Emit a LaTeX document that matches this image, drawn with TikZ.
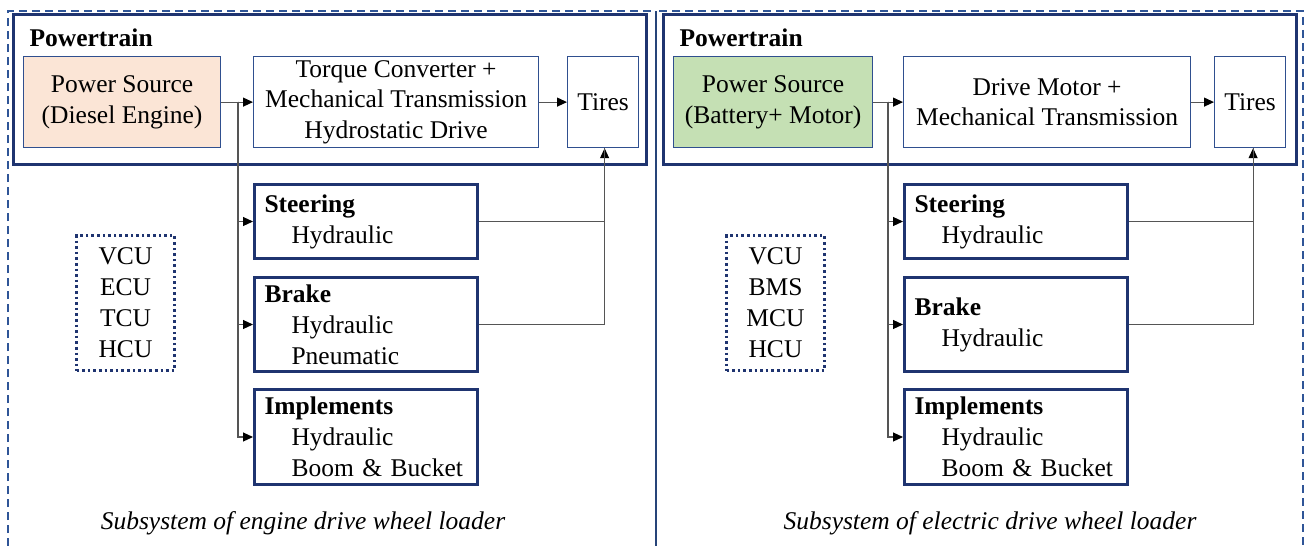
\documentclass[tikz,border=0pt]{standalone}
\usepackage{fontspec}
\setmainfont{Liberation Serif}
\newfontfamily\tnr{Liberation Serif}
\usetikzlibrary{arrows.meta}
\definecolor{navy}{HTML}{1F3470}
\definecolor{thinblue}{HTML}{2F4F8F}
\definecolor{dashblue}{HTML}{2F5597}
\definecolor{peach}{HTML}{FBE5D6}
\definecolor{leaf}{HTML}{C5E0B4}
\definecolor{wire}{HTML}{555555}
\begin{document}
\begin{tikzpicture}[x=1pt,y=-1pt,
  font=\tnr\fontsize{25.5}{30.5}\selectfont,
  outer/.style={draw=dashblue,line width=1.2pt,dash pattern=on 8pt off 5pt},
  midline/.style={draw=dashblue!80!black,line width=1.6pt},
  ptbox/.style={draw=navy,line width=3.4pt,rectangle,inner sep=0pt,anchor=north west},
  unitbox/.style={draw=thinblue,line width=1.2pt,rectangle,inner sep=2pt,align=center,anchor=north west,minimum height=91pt},
  subbox/.style={draw=navy,line width=3pt,rectangle,inner xsep=10pt,inner ysep=0pt,align=left,anchor=north west,
    text width=203pt,minimum height=#1,font=\tnr\fontsize{25.5}{31}\selectfont},
  dotbox/.style={draw=navy,line width=3pt,dash pattern=on 2.6pt off 3pt,rectangle,align=center,anchor=north west,
    minimum width=98pt,minimum height=135pt,inner sep=0pt,font=\tnr\fontsize{25.5}{31}\selectfont},
  conn/.style={draw=wire,line width=1.1pt},
  tip/.style={-{Triangle[length=10pt,width=9pt,color=black]}},
  lab/.style={anchor=base west,font=\tnr\fontsize{25.5}{30}\selectfont\bfseries},
  captext/.style={font=\tnr\fontsize{25.5}{30}\selectfont\itshape}
]
\useasboundingbox (0,0) rectangle (1304,546);
\fill[white] (0,0) rectangle (1304,546);

% outer frames
\draw[outer] (8,546) -- (8,11) -- (653,11);
\draw[outer] (659,11) -- (1303,11) -- (1303,546);
\draw[midline] (656,11) -- (656,546);

% ===== left panel =====
\node[ptbox,minimum width=633pt,minimum height=150pt] (ptL) at (12,13) {};
\node[lab] (ptLlab) at (26,46) {Powertrain};
\node[unitbox,fill=peach,minimum width=197pt] (psL) at (23,56) {Power Source\\(Diesel Engine)};
\node[unitbox,minimum width=285pt] (tcL) at (253,56) {Torque Converter +\\Mechanical Transmission\\Hydrostatic Drive};
\node[unitbox,minimum width=71pt] (tiL) at (567,56) {Tires};

\node[subbox=74pt] (stL) at (253,183) {\textbf{Steering}\\\hspace*{27pt}Hydraulic};
\node[subbox=94pt] (bkL) at (253,276) {\textbf{Brake}\\\hspace*{27pt}Hydraulic\\\hspace*{27pt}Pneumatic};
\node[subbox=95pt] (imL) at (253,388) {\textbf{Implements}\\\hspace*{27pt}Hydraulic\\\hspace*{27pt}Boom \& Bucket};
\node[dotbox] (ctL) at (75,234) {VCU\\ECU\\TCU\\HCU};
\node[captext] (capL) at (303,523) {Subsystem of engine drive wheel loader};

\coordinate (brL) at (238,101.5);
\draw[conn,tip] (psL.east) -- (tcL.west);
\draw[conn,tip] (tcL.east) -- (tiL.west);
\draw[conn,tip] (brL) |- (stL.west);
\draw[conn,tip] (brL) |- (bkL.west);
\draw[conn,tip] (brL) |- (imL.west);
\draw[conn,tip] (stL.east) -| ([xshift=1.5pt]tiL.south);
\draw[conn] (bkL.east) -| ([xshift=1.5pt]tiL.south);

% ===== right panel =====
\node[ptbox,minimum width=633pt,minimum height=150pt] (ptR) at (662,13) {};
\node[lab] (ptRlab) at (676,46) {Powertrain};
\node[unitbox,fill=leaf,minimum width=199pt] (psR) at (673,56) {Power Source\\(Battery+ Motor)};
\node[unitbox,minimum width=287pt] (tcR) at (903,56) {Drive Motor +\\Mechanical Transmission};
\node[unitbox,minimum width=71pt] (tiR) at (1214,56) {Tires};

\node[subbox=74pt] (stR) at (903,183) {\textbf{Steering}\\\hspace*{27pt}Hydraulic};
\node[subbox=94pt] (bkR) at (903,276) {\textbf{Brake}\\\hspace*{27pt}Hydraulic};
\node[subbox=95pt] (imR) at (903,388) {\textbf{Implements}\\\hspace*{27pt}Hydraulic\\\hspace*{27pt}Boom \& Bucket};
\node[dotbox] (ctR) at (725,234) {VCU\\BMS\\MCU\\HCU};
\node[captext] (capR) at (990,523) {Subsystem of electric drive wheel loader};

\coordinate (brR) at (888,101.5);
\draw[conn,tip] (psR.east) -- (tcR.west);
\draw[conn,tip] (tcR.east) -- (tiR.west);
\draw[conn,tip] (brR) |- (stR.west);
\draw[conn,tip] (brR) |- (bkR.west);
\draw[conn,tip] (brR) |- (imR.west);
\draw[conn,tip] (stR.east) -| ([xshift=3pt]tiR.south);
\draw[conn] (bkR.east) -| ([xshift=3pt]tiR.south);
\end{tikzpicture}
\end{document}
